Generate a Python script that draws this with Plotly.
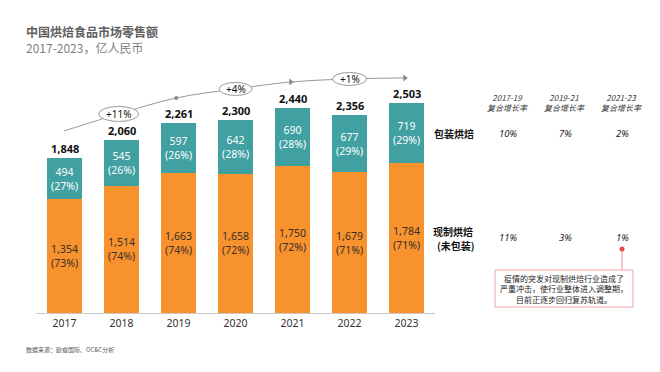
import plotly.graph_objects as go

years = ["2017", "2018", "2019", "2020", "2021", "2022", "2023"]
fresh = [1354, 1514, 1663, 1658, 1750, 1679, 1784]
fresh_pct = [73, 74, 74, 72, 72, 71, 71]
packaged = [494, 545, 597, 642, 690, 677, 719]
packaged_pct = [27, 26, 26, 28, 28, 29, 29]
totals = [1848, 2060, 2261, 2300, 2440, 2356, 2503]

growth_labels = ["+11%", "+4%", "+1%"]
cagr_headers = ["2017-19", "2019-21", "2021-23"]
cagr_packaged = ["10%", "7%", "2%"]
cagr_fresh = ["11%", "3%", "1%"]
note_text = "疫情的突发对现制烘焙行业造成了<br>严重冲击，使行业整体进入调整期，<br>目前正逐步回归复苏轨道。"

# decorative trend curve (drawn in data space)
trend_x = [-0.01, 0.95, 1.96, 3.0, 3.97, 5.0, 5.97]
trend_y = [2169, 2372, 2563, 2670, 2753, 2789, 2801]

FONT = "Noto Sans, Noto Sans CJK SC, sans-serif"
CJK = "Noto Sans CJK SC, sans-serif"
TEAL = "#41A0A1"
ORANGE = "#F7922F"

OFF = 8  # page body margin
W, H = 660 - OFF, 372 - OFF
# plot area in screen pixels
SL, SR, ST, SB = 36, 435, 60, 313
L, R, T, B = SL - OFF, SR - OFF, ST - OFF, SB - OFF
YMAX = 3015


def px(x):
    return (x - SL) / (SR - SL)


def py(y):
    return (SB - y) / (SB - ST)


def pann(x, y, text, font, xanchor="center", yanchor="middle", **kw):
    d = dict(x=px(x), y=py(y), xref="paper", yref="paper", xanchor=xanchor,
             yanchor=yanchor, text=text, showarrow=False, font=font)
    d.update(kw)
    return d


fig = go.Figure()
fig.add_bar(x=years, y=fresh, marker=dict(color=ORANGE, line=dict(width=0)),
            width=0.61, hoverinfo="skip")
fig.add_bar(x=years, y=packaged, marker=dict(color=TEAL, line=dict(width=0)),
            width=0.61, hoverinfo="skip")

ann = []
for i, yr in enumerate(years):
    ann.append(dict(x=i, y=fresh[i] / 2, xref="x2", yref="y", xanchor="center", yanchor="middle",
                    text=f"{fresh[i]:,}<br>({fresh_pct[i]}%)", showarrow=False,
                    font=dict(family=FONT, size=10.5, color="#3a2e22")))
    ann.append(dict(x=i, y=fresh[i] + packaged[i] / 2, xref="x2", yref="y",
                    xanchor="center", yanchor="middle",
                    text=f"{packaged[i]:,}<br>({packaged_pct[i]}%)", showarrow=False,
                    font=dict(family=FONT, size=10.5, color="white")))
    ann.append(dict(x=i, y=totals[i], xref="x2", yref="y", xanchor="center", yanchor="bottom",
                    yshift=0, text=f"<b>{totals[i]:,}</b>", showarrow=False,
                    font=dict(family=FONT, size=11, color="#111111")))

# trend curve
fig.add_scatter(x=trend_x, y=trend_y, mode="lines", xaxis="x2",
                line=dict(color="#9a9a9a", width=1, shape="spline"), hoverinfo="skip")
fig.add_scatter(x=[trend_x[2]], y=[trend_y[2]], mode="markers", xaxis="x2",
                marker=dict(color="#8a8a8a", size=4), hoverinfo="skip")
fig.add_scatter(x=[trend_x[4], trend_x[6]], y=[trend_y[4], trend_y[6]], mode="markers", xaxis="x2",
                marker=dict(color="#8a8a8a", size=6, symbol="triangle-right"), hoverinfo="skip")

shapes = []
ell = [(trend_x[1], trend_y[1], 20, 7.5), (trend_x[3], trend_y[3], 16.5, 6.5), (trend_x[5], trend_y[5], 17, 6.5)]
for (ex, ey, rx, ry), lab in zip(ell, growth_labels):
    shapes.append(dict(type="circle", xref="x2", yref="y", xsizemode="pixel", ysizemode="pixel",
                       xanchor=ex, yanchor=ey, x0=-rx, x1=rx, y0=-ry, y1=ry,
                       fillcolor="white", line=dict(color="#9a9a9a", width=1), layer="above"))
    ann.append(dict(x=ex, y=ey, xref="x2", yref="y", xanchor="center", yanchor="middle",
                    text=lab, showarrow=False,
                    font=dict(family=FONT, size=10, color="#111111")))

# titles
ann.append(pann(24, 31.5, "<b>中国烘焙食品市场零售额</b>",
                dict(family=CJK, size=12, color="#5f5f5f"), xanchor="left"))
ann.append(pann(24, 47.5, "2017-2023，亿人民币",
                dict(family=CJK, size=12, color="#7f7f7f"), xanchor="left"))
ann.append(pann(24, 349, "数据来源：欧睿国际、OC&C分析",
                dict(family=CJK, size=6, color="#555555"), xanchor="left"))

# series labels
ann.append(pann(432, 133, "<b>包装烘焙</b>", dict(family=CJK, size=10, color="#111111"),
                xanchor="left"))
ann.append(pann(453, 231.5, "<b>现制烘焙</b>", dict(family=CJK, size=10, color="#111111")))
ann.append(pann(456, 245.5, "<b>(未包装)</b>", dict(family=CJK, size=10, color="#111111")))

# CAGR table
col_x = [508, 565, 622]
for cx, hd, vp, vf in zip(col_x, cagr_headers, cagr_packaged, cagr_fresh):
    ann.append(pann(cx, 102, f"<i>{hd}<br>复合增长率</i>", dict(family=CJK, size=8, color="#333333")))
    ann.append(pann(cx, 133, f"<i>{vp}</i>", dict(family=FONT, size=9.5, color="#222222")))
    ann.append(pann(cx, 237, f"<i>{vf}</i>", dict(family=FONT, size=9.5, color="#222222")))

# callout
shapes.append(dict(type="line", xref="paper", yref="paper", x0=px(622), x1=px(622),
                   y0=py(249), y1=py(270), line=dict(color="#EE8C8C", width=1)))
shapes.append(dict(type="circle", xref="paper", yref="paper", x0=px(619.5), x1=px(624.5),
                   y0=py(251.5), y1=py(246.5), fillcolor="#E8474B", line=dict(width=0)))
shapes.append(dict(type="rect", xref="paper", yref="paper", x0=px(495), x1=px(633),
                   y0=py(307), y1=py(270), fillcolor="white", line=dict(color="#F0A3A3", width=1)))
ann.append(pann(564, 288.5, note_text, dict(family=CJK, size=8, color="#222222"), align="center"))

fig.update_layout(
    width=W, height=H, barmode="stack", showlegend=False,
    paper_bgcolor="white", plot_bgcolor="white",
    margin=dict(l=L, r=W - R, t=T, b=H - B, pad=0),
    xaxis=dict(type="category", range=[-0.5, 6.5], showgrid=False, zeroline=False,
               showline=True, linecolor="#c8c8c8", linewidth=1, ticks="",
               tickfont=dict(family=FONT, size=10.5, color="#333333")),
    xaxis2=dict(overlaying="x", range=[-0.5, 6.5], visible=False),
    yaxis=dict(range=[0, YMAX], visible=False),
    shapes=shapes, annotations=ann,
)

fig.write_html("out.html")
